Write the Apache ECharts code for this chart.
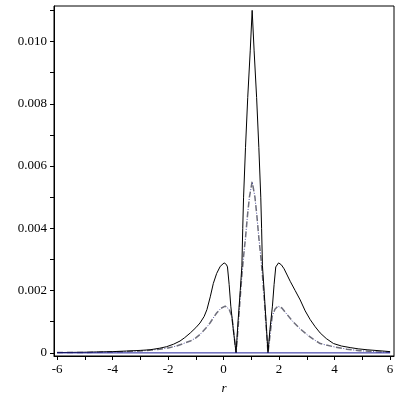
<!DOCTYPE html>
<html>
<head>
<meta charset="utf-8">
<script src="https://cdn.jsdelivr.net/npm/echarts@6/dist/echarts.min.js"></script>
<style>html,body{margin:0;padding:0;background:#fff}#c{width:400px;height:400px}</style>
</head>
<body>
<div id="c"></div>
<script>
// solid black curve [r, value]
var solidCurve = [
[-6,0.00001],[-5.5,0.000015],[-5,0.00002],[-4.5,0.00003],[-4,0.00004],[-3.5,0.00006],[-3,0.00008],
[-2.65,0.0001],[-2.3,0.00015],[-2.05,0.0002],[-1.8,0.00028],[-1.57,0.00038],[-1.4,0.00049],[-1.2,0.00064],
[-1.0,0.00081],[-0.85,0.00096],[-0.7,0.00117],[-0.6,0.00139],[-0.48,0.0018],[-0.37,0.00223],[-0.25,0.00255],
[-0.12,0.00278],[0.02,0.00289],[0.1,0.00284],[0.14,0.00276],[0.2,0.0022],[0.26,0.0015],[0.35,0.00075],[0.45,0],
[0.52,0.001],[0.6,0.002],[0.66,0.0028],[0.69,0.004],[0.72,0.005],[0.79,0.0066],[0.87,0.0082],[0.96,0.0097],
[1.03,0.011],[1.1,0.0097],[1.19,0.0082],[1.27,0.0066],[1.34,0.005],[1.37,0.004],[1.4,0.0028],[1.46,0.002],
[1.53,0.001],[1.6,0],[1.67,0.00075],[1.76,0.0015],[1.82,0.0022],[1.88,0.00276],[1.98,0.00289],[2.08,0.00283],
[2.18,0.0027],[2.29,0.0025],[2.4,0.0023],[2.58,0.002],[2.76,0.0017],[2.94,0.00135],[3.12,0.00107],[3.3,0.00084],
[3.48,0.00064],[3.7,0.00046],[3.96,0.0003],[4.25,0.00022],[4.56,0.00017],[4.85,0.00013],[5.17,0.0001],
[5.6,0.00007],[6,0.00004]
];
// dash-dot grey curve [r, value]
var dashCurve = [
[-6,0.00001],[-5,0.000015],[-4,0.00003],[-3.5,0.00004],[-3,0.00006],[-2.6,0.00009],[-2.3,0.00012],
[-2.0,0.00016],[-1.7,0.00022],[-1.45,0.0003],[-1.2,0.00038],[-1.0,0.00048],[-0.85,0.00059],[-0.65,0.00078],
[-0.49,0.00096],[-0.35,0.00115],[-0.25,0.00128],[-0.1,0.00143],[0.06,0.0015],[0.2,0.0014],[0.3,0.00117],
[0.36,0.0007],[0.45,0],[0.53,0.0009],[0.6,0.0018],[0.66,0.0025],[0.72,0.0031],[0.79,0.0037],[0.86,0.0044],
[0.93,0.005],[1.03,0.0055],[1.13,0.005],[1.2,0.0044],[1.27,0.0037],[1.34,0.0031],[1.4,0.0025],[1.46,0.0018],
[1.53,0.0009],[1.6,0],[1.69,0.0007],[1.75,0.00117],[1.85,0.0014],[1.96,0.0015],[2.1,0.00144],[2.3,0.00122],
[2.5,0.001],[2.75,0.00078],[3.0,0.00059],[3.25,0.00043],[3.48,0.0003],[3.7,0.00025],[3.95,0.0002],
[4.44,0.00012],[4.9,0.00007],[5.5,0.00004],[6,0.00002]
];
// flat blue curve
var baseCurve = [[-6,0],[6,0]];
var xTicks = [-6,-5,-4,-3,-2,-1,0,1,2,3,4,5,6];
var xLabels = [-6,-4,-2,0,2,4,6];
var yTicks = [0,0.001,0.002,0.003,0.004,0.005,0.006,0.007,0.008,0.009,0.010,0.011];
var yLabels = [0,0.002,0.004,0.006,0.008,0.010];

var font = 'Liberation Serif';
var chart = echarts.init(document.getElementById('c'));
chart.setOption({
  animation: false,
  backgroundColor: '#fff',
  grid: {left: 54, right: 6, top: 6, bottom: 40, show: true, borderColor: '#000', borderWidth: 1},
  xAxis: {
    type: 'value', min: -6.11, max: 6.14,
    name: 'r', nameLocation: 'middle', nameGap: 26,
    nameTextStyle: {fontFamily: font, fontStyle: 'italic', fontSize: 13, color: '#000'},
    axisLine: {show: true, onZero: false, lineStyle: {color: '#000', width: 1}},
    axisTick: {show: true, inside: false, length: 4, customValues: xTicks, lineStyle: {color: '#000'}},
    axisLabel: {customValues: xLabels, fontFamily: font, fontSize: 13, color: '#000', margin: 7},
    splitLine: {show: false}
  },
  yAxis: {
    type: 'value', min: -0.0001, max: 0.01114,
    axisLine: {show: true, onZero: false, lineStyle: {color: '#000', width: 1}},
    axisTick: {show: true, inside: false, length: 4, customValues: yTicks, lineStyle: {color: '#000'}},
    axisLabel: {customValues: yLabels, fontFamily: font, fontSize: 13, color: '#000', margin: 7,
      formatter: function (v) { return Math.abs(v) < 1e-12 ? '0' : v.toFixed(3); }},
    splitLine: {show: false}
  },
  series: [
    {type: 'line', data: dashCurve, showSymbol: false, silent: true,
     lineStyle: {color: '#6e6e7c', width: 1.5, type: [6, 4]}},
    {type: 'line', data: dashCurve, showSymbol: false, silent: true,
     lineStyle: {color: '#4a4aa0', width: 1, type: [1, 9], dashOffset: -7.5}},
    {type: 'line', data: solidCurve, showSymbol: false, silent: true,
     lineStyle: {color: '#000', width: 1}},
    {type: 'line', data: baseCurve, showSymbol: false, silent: true,
     lineStyle: {color: '#22229a', width: 1}}
  ]
});
</script>
</body>
</html>
